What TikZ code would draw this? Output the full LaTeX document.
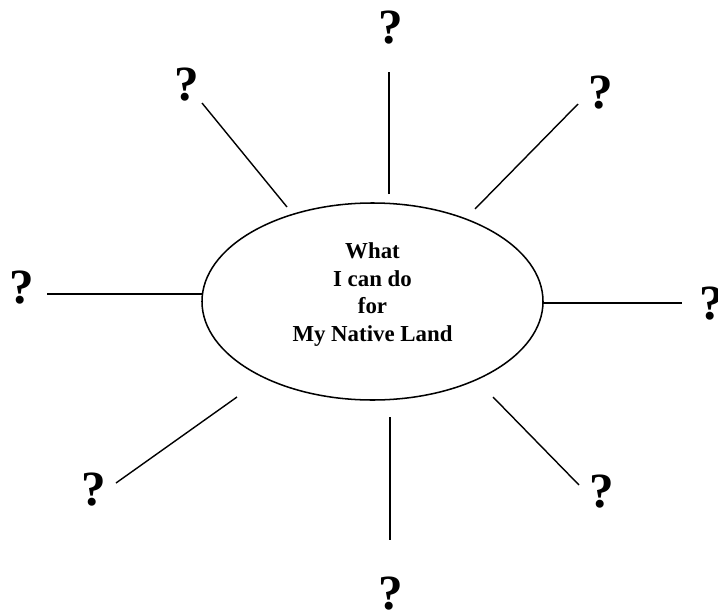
\documentclass[tikz,border=0pt]{standalone}
\usepackage{fontspec}
\setmainfont{Liberation Serif}
\usepackage{tikz}
\usetikzlibrary{shapes.geometric}
\tikzset{
  hub/.style={draw, ellipse, line width=1.3pt, inner sep=0pt,
    minimum width=10.23cm, minimum height=5.91cm, align=center,
    font=\fontsize{19.5}{23.5}\selectfont\bfseries},
  qmark/.style={inner sep=0pt, font=\fontsize{42}{42}\selectfont\bfseries},
  spoke/.style={line width=1.2pt}
}

\begin{document}
\begin{tikzpicture}[x=0.03cm, y=-0.03cm]
  \useasboundingbox (0,0) rectangle (718,614);
  % centre
  \node[hub] (land) at (372.5,301.5)
    {What\\I can do\\for\\My Native Land\rule[-16pt]{0pt}{16pt}};
  % spokes and question marks
  \foreach \n/\qx/\qy/\ax/\ay/\bx/\by in {
      1/391/28/389/194/389/72,
      2/601/93/475/209/578/104,
      3/712/304/543/303/682/303,
      4/602/492/493/397/579/485,
      5/391/594/390/417/390/540,
      6/94/490/237/397/116/483,
      7/22/288/202/294/47/294,
      8/187/85/287/207/202/103} {
    \node[qmark] (q\n) at (\qx,\qy) {?};
    \coordinate (s\n) at (\ax,\ay);
    \coordinate (e\n) at (\bx,\by);
    \draw[spoke] (s\n) -- (e\n);
  }
\end{tikzpicture}
\end{document}
